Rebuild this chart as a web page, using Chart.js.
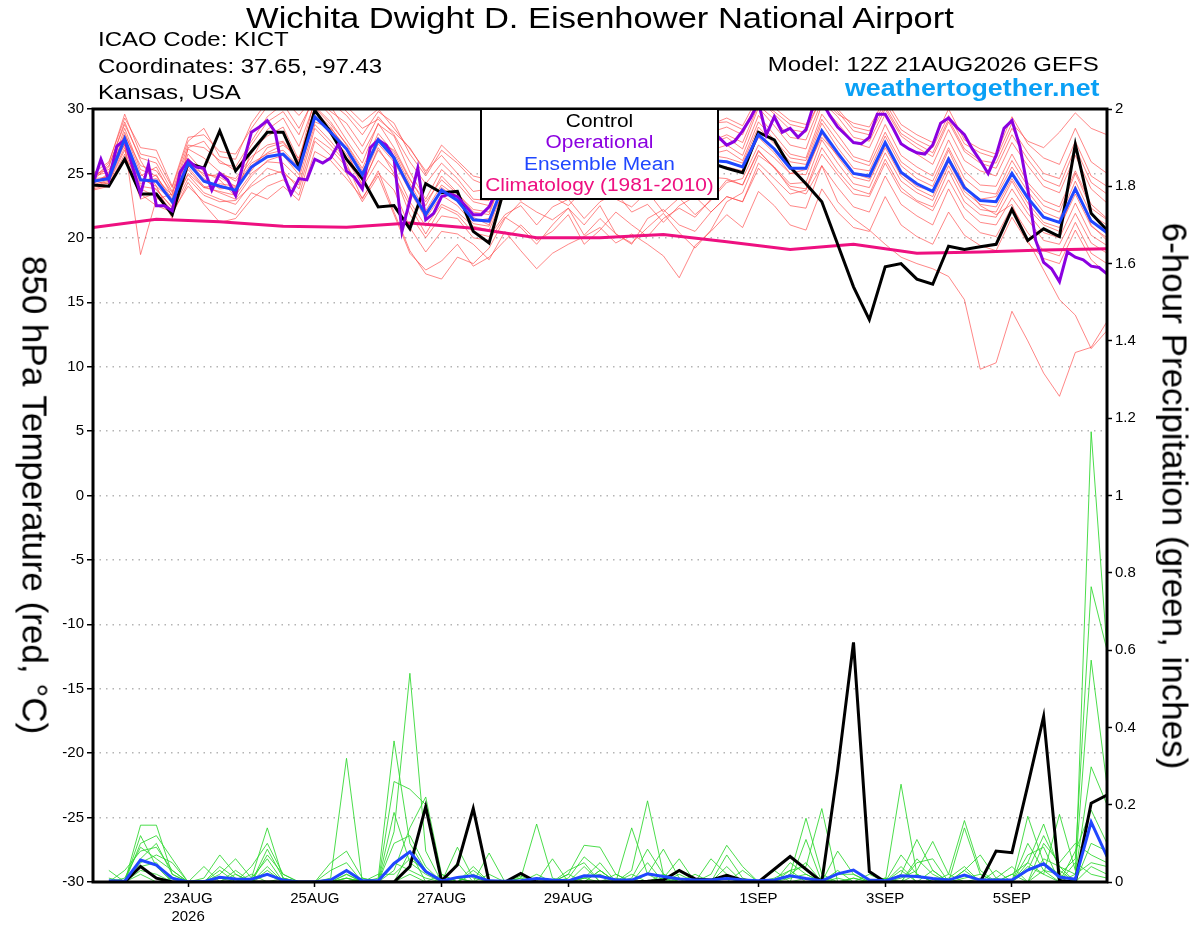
<!DOCTYPE html>
<html>
<head>
<meta charset="utf-8">
<title>Wichita KICT - GEFS 12Z 21AUG2026</title>
<script src="https://cdn.jsdelivr.net/npm/chart.js@4.4.1/dist/chart.umd.min.js"></script>
<style>
  body { margin: 0; background: #fff; overflow: hidden; }
  #marcoPagina { position: relative; width: 1200px; height: 927px; font-family: "Liberation Sans", Arial, sans-serif; color: #000; }
  #marcoPagina canvas { position: absolute; left: 0; top: 0; }
  .txt { position: absolute; white-space: nowrap; line-height: 1; }
  .izq { left: 98px; font-size: 20px; transform: scaleX(1.2); transform-origin: left center; }
  .der { right: 101px; font-size: 20px; transform: scaleX(1.2); transform-origin: right center; }
  #leyenda { position: absolute; left: 480px; top: 108px; width: 239px; height: 92px; box-sizing: border-box; border: 2px solid #000; background: #fff; }
  .ley { position: absolute; left: 480px; width: 239px; text-align: center; font-size: 18px; transform: scaleX(1.16); transform-origin: center center; }
  .eje { position: absolute; white-space: nowrap; line-height: 1; font-size: 35px; transform: translate(-50%, -50%) rotate(90deg); }
</style>
</head>
<body>
<div id="marcoPagina">
  <canvas id="meteograma" width="1200" height="927"></canvas>

  <div class="txt" style="left:0;width:1200px;top:4px;text-align:center;font-size:29px;transform:scaleX(1.19);transform-origin:center center;">Wichita Dwight D. Eisenhower National Airport</div>
  <div class="txt izq" style="top:29px;">ICAO Code: KICT</div>
  <div class="txt izq" style="top:56px;">Coordinates: 37.65, -97.43</div>
  <div class="txt izq" style="top:82px;">Kansas, USA</div>
  <div class="txt der" style="top:54px;">Model: 12Z 21AUG2026 GEFS</div>
  <div class="txt" style="right:100px;top:77px;font-size:23px;font-weight:bold;color:#0aa0f5;transform:scaleX(1.165);transform-origin:right center;">weathertogether.net</div>

  <div id="leyenda"></div>
  <div class="txt ley" style="top:112px;color:#000;">Control</div>
  <div class="txt ley" style="top:133px;color:#8b00e0;">Operational</div>
  <div class="txt ley" style="top:155px;color:#2047ff;">Ensemble Mean</div>
  <div class="txt ley" style="top:176px;color:#ee1080;">Climatology (1981-2010)</div>

  <div class="eje" style="left:35px;top:495px;">850 hPa Temperature (red, °C)</div>
  <div class="eje" style="left:1175px;top:496px;">6-hour Precipitation (green, inches)</div>
</div>

<script>
// horas desde la corrida (12Z 21AUG2026)
const horasT = [];
for (let h = 0; h <= 384; h += 6) horasT.push(h);
const horasP = horasT.slice(1);          // la lluvia de 6 h empieza en +6h
const horasOper = [];
for (let h = 0; h <= 384; h += 3) horasOper.push(h);
const horasClima = [];
for (let h = 0; h <= 384; h += 24) horasClima.push(h);

// fechas del eje x (00Z de cada dia)
const ticksX = [36, 84, 132, 180, 252, 300, 348];
const etiquetasX = [['23AUG', '2026'], '25AUG', '27AUG', '29AUG', '1SEP', '3SEP', '5SEP'];

// temperatura 850 hPa (C)
const controlT = [24.1,24.0,26.1,23.4,23.4,21.8,25.8,25.4,28.3,25.2,26.7,28.2,28.2,25.5,29.9,28.2,26.1,
  24.6,22.4,22.5,20.7,24.2,23.5,23.6,20.5,19.6,
  24.0,25.5,26.8,27.5,26.5,27.8,28.5,27.0,26.3,27.5,28.0,26.8,26.0,25.8,
  25.4,25.05,28.2,27.6,25.5,24.2,22.8,19.5,16.2,13.65,
  17.75,18.0,16.8,16.4,19.35,19.1,19.3,19.5,22.2,19.8,20.7,20.1,27.25,21.9,20.6];

const mediaT = [24.4,24.6,27.7,24.5,24.4,22.8,25.8,24.4,24.0,23.7,25.5,26.3,26.5,25.3,29.4,28.2,26.9,
  24.9,27.6,26.2,23.8,21.8,23.7,22.9,21.4,21.3,
  24.4,25.0,25.8,26.3,26.0,26.5,27.0,26.4,26.8,27.2,26.5,26.9,26.2,26.0,
  25.9,25.5,28.0,26.9,25.4,25.4,28.3,26.6,25.0,24.8,
  27.4,25.1,24.2,23.6,26.1,23.9,22.9,22.8,25.0,23.1,21.6,21.2,23.8,21.3,20.4];

// operacional cada 3 h
const operacionalT = [24.2,26.1,24.5,27.1,27.6,25.5,23.4,25.7,22.5,22.5,22.1,25.1,26.0,25.5,25.4,23.7,
  25.0,24.5,23.3,25.9,28.2,28.6,29.1,28.2,25.0,23.4,24.6,24.5,26.1,25.8,26.2,27.3,25.2,
  24.7,23.8,27.0,27.6,27.2,26.2,20.5,22.9,25.4,21.4,21.9,23.2,23.4,23.2,22.5,21.8,21.8,22.4,23.7,
  25.0,26.2,27.0,27.8,28.5,29.2,30.5,31.0,29.8,28.6,29.5,30.3,31.2,30.0,28.8,29.5,28.2,27.4,
  28.6,29.3,28.0,27.2,28.5,29.0,27.8,27.0,27.5,
  27.8,27.2,27.5,28.3,29.3,30.5,28.0,29.4,28.2,28.5,27.8,28.4,30.4,30.6,29.5,28.6,28.0,27.4,
  27.3,27.8,29.6,29.6,28.5,27.3,26.9,26.6,26.5,27.2,28.9,29.3,28.6,28.0,26.9,26.0,25.0,26.4,
  28.5,29.1,27.1,23.8,19.8,18.1,17.6,16.6,18.9,18.5,18.3,17.8,17.7,17.2];

// climatologia diaria 1981-2010
const climaT = [20.8,21.45,21.25,20.9,20.83,21.15,20.75,20.0,20.0,20.25,19.7,19.1,19.5,18.8,18.9,19.05,19.15];

// miembros del ensamble (temperatura)
const miembrosT = [
  [24.2,25.0,28.5,25.3,24.8, 23.0,26.5,25.1,24.5,23.2, 26.8,27.9,28.6,26.0,30.8, 29.5,27.6,25.8,28.9,27.0, 24.6,22.5,24.8,23.5,22.0, 21.8,25.2,26.3,27.1,27.5, 26.8,27.9,28.5,27.2,28.0, 28.8,27.4,28.2,27.0,26.8, 27.2,26.4,29.5,28.0,26.5, 26.2,29.6,28.0,26.3,25.9, 28.8,26.4,25.5,24.8,27.6, 25.2,24.1,24.0,26.5,24.3, 22.9,22.4,25.2,22.6,21.5],
  [23.8,24.1,26.5,23.0,23.5, 22.1,24.6,23.3,22.8,22.9, 24.0,24.8,25.2,23.8,27.8, 26.9,25.5,23.9,26.0,24.8, 22.5,20.3,22.4,21.8,20.4, 20.1,21.8,22.5,21.0,22.4, 23.0,21.5,22.8,23.5,22.0, 22.6,21.2,22.5,23.2,22.0, 23.2,22.8,25.8,24.6,23.4, 23.7,26.5,24.9,23.4,23.2, 25.8,23.6,22.8,22.1,24.5, 22.3,21.2,21.0,23.1,21.4, 19.8,19.5,21.9,19.6,18.8],
  [24.9,25.3,27.2,18.7,23.0, 23.4,26.9,26.2,25.1,24.4, 26.0,28.4,29.3,27.1,30.5, 30.2,28.3,26.5,28.8,27.9, 25.1,23.0,25.3,24.2,22.8, 22.5,25.8,26.5,27.9,28.2, 27.5,28.4,29.0,27.8,28.6, 29.2,28.0,28.9,27.6,27.3, 27.8,26.9,30.1,28.7,27.2, 26.9,30.3,28.9,27.4,27.0, 29.6,27.3,26.5,25.7,28.4, 26.0,25.2,24.8,27.4,25.6, 24.0,23.5,26.4,23.8,22.7],
  [24.6,25.8,29.6,26.5,26.2, 23.9,27.5,28.5,26.3,26.1, 28.9,30.6,31.0,30.4,31.5, 30.8,30.2,29.0,30.0,28.5, 26.9,25.2,26.4,25.0,23.6, 23.8,26.8,27.9,28.6,29.4, 28.9,29.8,30.5,29.6,30.2, 30.6,29.3,30.2,29.0,28.8, 29.3,28.7,31.0,30.1,29.1, 28.8,31.2,30.0,28.6,28.3, 30.5,28.4,27.6,27.0,29.5, 27.3,26.6,26.2,28.9,27.5, 27.0,28.2,29.7,28.5,28.0],
  [24.0,24.4,27.0,24.0,23.8, 22.3,25.0,23.9,23.6,23.3, 25.0,25.9,25.8,24.6,28.8, 27.5,26.0,24.2,26.8,25.4, 22.8,20.9,22.6,22.0,20.9, 20.6,23.5,24.4,25.1,25.5, 25.0,25.8,26.2,25.4,25.7, 26.1,25.3,25.9,25.0,24.7, 24.6,24.1,26.7,25.5,23.8, 23.4,25.6,22.8,21.5,20.6, 19.5,18.5,18.0,17.6,17.0, 15.2,9.8,10.3,14.3,12.0, 9.5,7.7,11.1,11.5,13.5],
  [24.3,24.8,28.0,25.6,25.2, 23.5,26.2,24.8,24.9,24.6, 26.3,27.2,27.5,25.9,30.1, 28.8,27.3,25.4,28.1,26.6, 24.2,22.1,24.1,23.2,21.6, 21.0,24.6,25.3,26.0,26.8, 26.4,26.9,27.4,26.7,27.2, 27.6,26.8,27.2,26.5,26.4, 26.2,25.8,28.6,27.3,25.9, 25.7,28.9,27.0,25.4,25.2, 27.9,25.6,24.6,24.0,26.8, 24.1,22.5,21.8,22.6,19.8, 17.5,15.2,14.0,11.4,12.8],
  [24.5,25.5,29.0,26.0,24.0, 21.5,27.0,27.5,25.8,25.5, 27.5,29.4,30.4,28.5,30.9, 29.8,28.9,27.1,29.4,28.0, 25.9,24.2,25.8,24.6,23.0, 22.9,26.0,27.0,27.6,28.0, 27.4,28.3,28.9,28.0,28.5, 29.0,28.2,28.8,27.8,27.5, 28.0,27.4,30.3,29.2,27.8, 27.6,30.6,29.4,27.8,27.5, 30.0,27.9,27.0,26.3,29.0, 26.7,25.8,25.4,28.0,26.1, 24.5,24.0,27.0,24.3,23.4],
  [23.9,24.3,26.8,23.4,22.5, 22.0,24.0,22.8,22.3,21.8, 23.5,23.0,24.0,22.9,26.7, 26.0,24.6,23.1,25.0,23.7, 20.8,18.9,20.5,20.3,19.5, 18.3,20.5,19.0,17.6,18.8, 19.5,20.1,20.8,19.6,20.3, 19.5,18.6,16.9,19.4,20.5, 21.8,20.8,23.6,22.5,21.0, 20.6,23.8,22.0,20.8,20.5, 23.2,21.0,20.1,19.5,22.0, 20.2,19.4,19.0,21.6,19.6, 18.4,18.0,20.6,18.3,17.2],
  [24.8,25.1,27.5,24.8,25.5, 23.2,25.5,24.0,23.5,23.0, 24.8,26.0,26.4,24.9,29.5, 28.0,26.5,24.5,27.3,25.9, 23.6,21.5,23.3,22.5,21.1, 20.9,23.9,24.8,25.5,26.1, 25.7,26.3,26.8,26.1,26.6, 27.0,26.2,26.6,25.9,25.6, 25.5,25.2,27.8,26.6,25.0, 24.9,28.1,26.3,24.7,24.4, 27.0,24.8,23.8,23.2,25.9, 23.6,22.6,22.4,24.6,22.7, 21.2,20.8,23.4,20.9,20.0],
  [24.1,24.5,27.3,24.2,24.9, 22.6,24.9,23.5,23.0,22.6, 24.2,25.4,25.0,24.1,28.5, 27.2,25.8,23.0,25.2,22.0, 19.0,17.2,16.8,18.5,18.0, 19.2,21.5,22.8,22.0,21.4, 22.3,21.0,22.5,20.3,19.5, 21.5,22.2,21.0,20.5,22.0, 23.2,22.8,25.4,24.0,22.5, 22.3,25.6,23.9,22.4,22.0, 24.8,22.6,21.7,21.0,23.8, 21.5,20.4,20.1,22.4,20.4, 19.0,18.6,21.2,18.8,18.0],
  [24.7,25.6,28.8,26.2,25.8, 23.6,27.2,27.0,26.0,25.2, 27.2,29.0,29.8,28.0,31.2, 30.5,29.5,28.0,29.8,28.9, 26.5,24.8,26.8,25.8,24.5, 24.0,27.0,28.0,28.9,29.2, 28.5,29.4,30.0,29.0,29.6, 30.2,29.0,29.7,28.5,28.2, 28.6,28.0,30.8,29.6,28.4, 28.2,31.0,29.8,28.3,28.0, 30.2,28.1,27.3,26.6,29.2, 26.9,26.0,25.8,28.5,26.6, 25.0,24.6,27.5,24.8,24.0],
  [24.4,24.2,26.2,24.6,24.0, 22.9,25.3,23.9,24.2,24.0, 25.8,26.5,26.8,25.5,29.0, 28.5,27.0,25.0,27.8,26.3, 24.0,21.6,23.9,23.0,21.3, 21.5,23.6,22.9,24.0,23.2, 22.5,23.8,24.6,23.0,22.4, 23.6,22.0,23.1,21.8,22.9, 24.3,24.6,27.2,26.2,25.0, 25.3,27.8,26.4,25.0,24.6, 27.2,25.0,24.0,23.6,26.3, 23.9,23.0,23.2,25.5,23.6, 22.0,21.5,24.4,21.8,21.0],
  [23.7,24.0,26.0,23.8,23.2, 21.8,24.3,22.6,21.2,21.5, 23.0,24.0,24.5,23.3,27.5, 26.4,25.0,22.8,24.8,21.8, 18.8,17.5,18.2,19.5,17.8, 18.5,19.8,21.0,19.8,20.5, 21.8,19.5,20.6,22.0,21.0, 20.1,21.5,22.3,21.6,23.0, 24.5,24.1,26.8,25.4,24.0, 23.8,27.0,25.2,23.8,23.4, 26.1,23.9,22.9,22.4,25.2, 22.8,21.8,21.6,23.8,21.9, 20.4,20.0,22.7,20.2,19.4],
  [25.0,25.9,29.3,27.0,26.8, 24.0,27.8,28.0,26.7,26.5, 28.5,30.2,30.8,29.5,31.0, 31.2,29.8,28.5,29.2,28.2, 27.0,25.0,27.2,26.0,24.8, 24.5,27.5,28.4,28.0,29.8, 29.0,30.2,29.5,30.5,29.0, 30.8,29.6,29.8,29.4,28.9, 29.0,28.4,30.6,29.8,28.8, 28.5,30.9,29.6,28.9,28.6, 30.8,28.8,28.0,27.4,30.0, 27.6,26.9,26.5,29.4,27.3, 26.2,25.7,28.5,25.9,25.0],
  [24.2,24.9,27.8,24.4,24.6, 23.3,25.6,25.0,24.7,24.0, 25.2,27.0,27.4,25.8,30.2, 29.0,27.2,25.2,27.5,26.8, 24.5,22.8,24.5,23.4,22.2, 22.0,25.0,25.8,26.5,27.0, 26.2,27.2,27.8,26.9,27.4, 28.0,27.0,27.6,26.8,26.5, 26.8,26.0,29.0,27.6,26.2, 26.0,29.2,27.5,26.0,25.6, 28.2,25.9,25.0,24.4,27.0, 24.6,23.6,23.4,26.0,24.0, 22.5,22.0,25.0,22.3,21.4],
  [24.6,24.7,28.2,25.0,23.7, 22.4,25.9,24.6,23.8,23.9, 25.6,26.6,27.2,26.2,29.8, 28.6,26.8,24.0,27.0,25.0, 21.8,20.0,21.7,21.5,20.0, 19.8,21.6,20.8,19.5,21.0, 22.3,20.2,21.5,20.3,19.6, 20.8,21.9,20.4,19.2,20.6, 22.8,23.5,26.4,25.5,24.2, 24.3,27.6,25.8,24.2,23.9, 26.6,24.4,23.5,22.9,25.6, 23.3,22.2,22.0,24.4,22.3, 21.0,20.5,24.0,21.0,19.8]
];

// precipitacion 6 h (pulgadas), de +6h a +384h
const controlPP = [0,0,0.04,0.01,0,0,0,0, 0,0,0,0,0,0,0,0, 0,0,0,0.04,0.195,0.003,0.044,0.19, 0,0,0.022,0,0,0,0,0,
  0,0,0.002,0.005,0.03,0.008,0.005,0.017, 0.005,0,0.033,0.066,0.033,0,0.29,0.62, 0.027,0,0,0,0,0,0,0, 0.08,0.076,0.25,0.428,0.003,0,0.204,0.225];

const mediaPP = [0.003,0.002,0.057,0.044,0.01,0,0.001,0.012, 0.008,0.007,0.02,0.005,0,0,0.005,0.03,
  0.003,0.003,0.048,0.078,0.027,0.003,0.012,0.016, 0.003,0.002,0.003,0.009,0.005,0.003,0.016,0.015,
  0.005,0.005,0.021,0.014,0.008,0.005,0.005,0.009, 0.005,0.003,0.005,0.016,0.009,0.003,0.021,0.031,
  0.005,0.003,0.016,0.014,0.009,0.005,0.018,0.005, 0.005,0.005,0.031,0.047,0.013,0.007,0.155,0.066];

const miembrosPP = [
  [0,0,0.147,0.147,0.02,0,0,0, 0,0.01,0.06,0,0,0,0,0.01, 0,0,0.13,0.54,0.08,0,0.01,0, 0,0,0,0.02,0,0,0.01,0.02, 0,0.03,0.21,0.02,0,0,0,0.01, 0,0,0,0.02,0.05,0,0,0, 0,0,0.253,0.02,0,0.01,0.04,0, 0,0.02,0.05,0.15,0.03,0,1.165,0.6],
  [0,0,0.1,0.12,0.06,0,0.01,0.07, 0.02,0,0.03,0,0,0,0.01,0.32, 0,0,0.03,0.14,0.22,0.02,0,0.02, 0,0,0.01,0.15,0.01,0,0,0.03, 0,0.14,0.02,0,0.01,0,0,0, 0,0,0.01,0.03,0.04,0.19,0,0.01, 0,0,0.02,0.11,0.03,0,0.01,0.02, 0,0,0.17,0.05,0.02,0.06,0.764,0.6],
  [0,0.03,0.08,0.09,0.03,0,0,0.02, 0.06,0.01,0.14,0.01,0,0,0,0.01, 0,0.01,0.365,0.1,0.03,0,0.09,0.01, 0,0,0,0.01,0,0.02,0.095,0.09, 0.02,0,0,0.01,0,0,0.02,0.095, 0.04,0,0,0.02,0.165,0.02,0,0, 0,0,0.01,0.03,0.105,0.02,0.159,0.03, 0,0,0.04,0.02,0.175,0.03,0.574,0.25],
  [0.03,0,0.05,0.07,0.05,0,0,0.01, 0,0.04,0.1,0.02,0,0,0,0.02, 0,0,0.26,0.24,0.2,0.01,0,0.03, 0,0,0.01,0,0.06,0,0.01,0, 0,0.01,0.085,0.02,0,0,0.06,0.02, 0,0,0,0.01,0.02,0,0.08,0.02, 0,0,0.07,0.02,0,0,0.03,0.07, 0.01,0,0.03,0.12,0.04,0.02,0.298,0.2],
  [0,0,0.06,0.1,0.02,0,0,0.04, 0.01,0,0.085,0.01,0,0,0.05,0.08, 0.01,0,0.18,0.05,0.02,0,0.01,0, 0.075,0,0,0.01,0,0.01,0.065,0.03, 0,0,0.02,0.085,0.01,0,0,0.07, 0.01,0,0,0.05,0.02,0,0.01,0, 0,0.01,0,0.06,0.02,0,0.14,0.02, 0,0,0.1,0.03,0,0.08,0.186,0.1],
  [0,0,0.12,0.04,0,0,0.04,0, 0.03,0,0.07,0.02,0,0,0,0.01, 0,0,0.1,0.12,0.04,0,0.05,0, 0,0,0.02,0,0,0,0.01,0.05, 0,0.02,0,0.01,0.06,0,0,0.01, 0,0,0.03,0,0.01,0,0.02,0.02, 0,0,0.03,0,0,0.02,0,0, 0.01,0.04,0,0.1,0.05,0.1,0.07,0.05],
  [0,0.01,0.09,0.06,0.03,0,0,0, 0,0,0,0,0,0,0.03,0.05, 0,0.02,0.02,0.06,0.03,0,0,0.04, 0,0,0,0,0,0.03,0.05,0, 0.02,0,0.05,0,0,0,0,0, 0.03,0,0,0,0.11,0,0,0, 0.02,0,0,0.05,0.06,0,0,0, 0.03,0,0.07,0.09,0,0.02,0.05,0.04],
  [0,0,0.04,0.05,0,0,0,0.03, 0,0,0.04,0,0,0,0,0, 0.01,0,0,0.08,0,0.02,0,0, 0,0,0.015,0,0,0,0.04,0, 0,0,0,0.02,0,0,0,0.04, 0,0,0,0,0,0,0.03,0, 0,0.01,0,0,0,0,0.03,0, 0,0.02,0,0.06,0.04,0,0.1,0.08],
  [0.01,0,0.03,0.02,0,0,0,0, 0,0.02,0,0.01,0,0,0,0, 0,0,0.05,0.03,0.01,0,0,0, 0.02,0,0,0,0,0.02,0,0.03, 0,0,0,0,0,0.02,0,0, 0,0,0,0.03,0,0,0,0.01, 0,0,0.04,0,0.03,0,0,0, 0,0,0.05,0.02,0,0.05,0.02,0.01],
  [0,0,0.02,0,0.01,0,0,0, 0.02,0,0.02,0,0,0,0,0.02, 0,0,0,0.02,0,0,0.01,0, 0,0,0,0,0,0,0,0, 0.01,0,0,0,0.02,0,0,0, 0,0,0,0,0,0.01,0,0, 0,0,0,0.02,0,0,0,0.01, 0,0,0,0.03,0.02,0,0.04,0.02]
];

const ROJO = 'rgba(255,70,70,0.72)';
const VERDE = 'rgba(45,215,45,0.95)';
const MORADO = '#8b00e0';
const AZUL = '#2047ff';
const ROSA = '#ee1080';

const puntos = (horas, valores) => valores.map((v, i) => ({ x: horas[i], y: v }));

const series = [
  { label: 'Ensemble Mean', data: puntos(horasT, mediaT), yAxisID: 'yT', borderColor: AZUL, borderWidth: 3, order: 1 },
  { label: 'Ensemble Mean precip', data: puntos(horasP, mediaPP), yAxisID: 'yP', borderColor: AZUL, borderWidth: 3, order: 1 },
  { label: 'Operational', data: puntos(horasOper, operacionalT), yAxisID: 'yT', borderColor: MORADO, borderWidth: 3, order: 2 },
  { label: 'Control', data: puntos(horasT, controlT), yAxisID: 'yT', borderColor: '#000', borderWidth: 3, order: 3 },
  { label: 'Control precip', data: puntos(horasP, controlPP), yAxisID: 'yP', borderColor: '#000', borderWidth: 3, order: 3 },
  { label: 'Climatology (1981-2010)', data: puntos(horasClima, climaT), yAxisID: 'yT', borderColor: ROSA, borderWidth: 3, order: 4 }
];
miembrosPP.forEach((m, i) => series.push({ label: 'precip miembro ' + (i + 1), data: puntos(horasP, m), yAxisID: 'yP', borderColor: VERDE, borderWidth: 0.9, order: 5 }));
miembrosT.forEach((m, i) => series.push({ label: 'temp miembro ' + (i + 1), data: puntos(horasT, m), yAxisID: 'yT', borderColor: ROJO, borderWidth: 0.9, order: 6 }));

// borde negro grueso alrededor del area del grafico
const marcoNegro = {
  id: 'marcoNegro',
  afterDatasetsDraw(chart) {
    const { ctx, chartArea: a } = chart;
    ctx.save();
    ctx.strokeStyle = '#000';
    ctx.lineWidth = 3;
    ctx.strokeRect(a.left, a.top, a.right - a.left, a.bottom - a.top);
    ctx.restore();
  }
};

Chart.defaults.font.family = '"Liberation Sans", Arial, sans-serif';
Chart.defaults.font.size = 15;
Chart.defaults.color = '#000';

new Chart(document.getElementById('meteograma'), {
  type: 'line',
  data: { datasets: series },
  options: {
    responsive: false,
    animation: false,
    devicePixelRatio: 1,
    layout: { padding: { top: 109, left: 0, right: 0, bottom: 0 } },
    elements: { point: { radius: 0 }, line: { tension: 0, fill: false } },
    plugins: { legend: { display: false }, tooltip: { enabled: false } },
    scales: {
      x: {
        type: 'linear',
        min: 0,
        max: 384,
        afterBuildTicks: s => { s.ticks = ticksX.map(v => ({ value: v })); },
        afterFit: s => { s.height = 45; },
        grid: { drawOnChartArea: false, tickLength: 5, tickColor: '#000', tickWidth: 1.5 },
        border: { display: false },
        ticks: {
          autoSkip: false,
          maxRotation: 0,
          padding: 3,
          callback: v => { const i = ticksX.indexOf(v); return i < 0 ? '' : etiquetasX[i]; }
        }
      },
      yT: {
        position: 'left',
        min: -30,
        max: 30,
        afterFit: s => { s.width = 93; },
        grid: { color: '#b4b4b4', lineWidth: 1.5, tickLength: 6, tickColor: '#000', tickWidth: 1.5 },
        border: { display: false, dash: [1.5, 5] },
        ticks: { stepSize: 5, padding: 3 }
      },
      yP: {
        position: 'right',
        min: 0,
        max: 2,
        afterFit: s => { s.width = 93; },
        grid: { drawOnChartArea: false, tickLength: 5, tickColor: '#000', tickWidth: 1.5 },
        border: { display: false },
        ticks: { stepSize: 0.2, padding: 3, callback: v => String(+v.toFixed(1)) }
      }
    }
  },
  plugins: [marcoNegro]
});
</script>
</body>
</html>
